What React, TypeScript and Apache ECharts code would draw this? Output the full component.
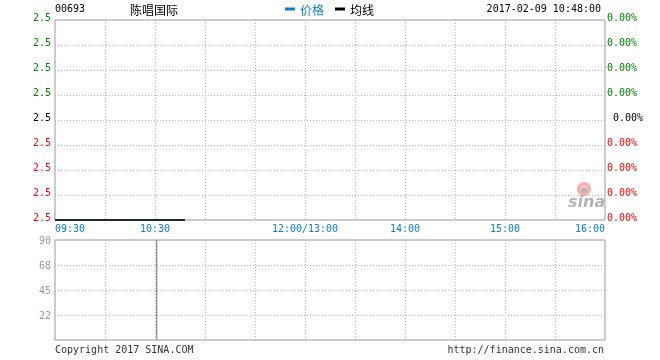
import React, { useEffect, useRef } from "react";
import * as echarts from "echarts";

// ---- data ----
const stockCode = "00693";
const stockName = "陈唱国际";
const timestamp = "2017-02-09 10:48:00";
const priceTimes = ["09:30", "10:48"];
const prices = [2.5, 2.5];
const avgPrices = [2.5, 2.5];
const volumeTimes = ["10:31"];
const volumes = [90];
const timeTickLabels = ["09:30", "", "10:30", "", "", "12:00/13:00", "", "14:00", "", "15:00", "", "16:00"];
const priceTickLabels = ["2.5", "2.5", "2.5", "2.5", "2.5", "2.5", "2.5", "2.5", "2.5"];
const pctTickLabels = ["0.00%", "0.00%", "0.00%", "0.00%", "0.00%", "0.00%", "0.00%", "0.00%", "0.00%"];
const volumeTickLabels = ["", "22", "45", "68", "90"];

// trading minutes since 09:30 (lunch break 12:00-13:00 removed)
const toMin = (t: string) => {
  const [h, m] = t.split(":").map(Number);
  const total = h * 60 + m;
  return total <= 720 ? total - 570 : total - 780 + 150;
};

const MONO = "'DejaVu Sans Mono', 'Liberation Mono', monospace";
const BLUE = "#0a7dd0";
const GRID_LINE = { show: true, lineStyle: { color: "#b4b4b4", type: [1, 2] as any, width: 1 }, showMinLine: false, showMaxLine: false };

export default function App() {
  const ref = useRef<HTMLDivElement>(null);
  useEffect(() => {
    if (!ref.current) return;
    const chart = echarts.init(ref.current, null, { renderer: "svg" });
    const colorOf = (i: number) => (i < 4 ? "r" : i === 4 ? "k" : "g");
    const rich = {
      r: { color: "#ff0000", fontFamily: MONO, fontSize: 10 },
      k: { color: "#000", fontFamily: MONO, fontSize: 10 },
      g: { color: "#008000", fontFamily: MONO, fontSize: 10 },
      km: { color: "#000", fontFamily: MONO, fontSize: 10, padding: [0, 0, 0, 6] },
    };
    chart.setOption({
      animation: false,
      grid: [
        { left: 55, top: 20, width: 550, height: 200, show: true, borderColor: "#999", borderWidth: 1, backgroundColor: "transparent" },
        { left: 55, top: 240, width: 550, height: 100, show: true, borderColor: "#999", borderWidth: 1, backgroundColor: "transparent" },
      ],
      legend: {
        left: 285,
        top: 3,
        padding: 0,
        itemWidth: 10,
        itemHeight: 3,
        itemGap: 11,
        icon: "rect",
        textStyle: { fontSize: 12, fontFamily: "'Noto Sans CJK SC'" },
        data: [
          { name: "价格", textStyle: { color: BLUE } },
          { name: "均线", textStyle: { color: "#000" } },
        ],
      },
      xAxis: [
        {
          gridIndex: 0,
          type: "value",
          min: 0,
          max: 330,
          interval: 30,
          axisLine: { show: false },
          axisTick: { show: false },
          splitLine: GRID_LINE,
          axisLabel: {
            margin: 3,
            color: BLUE,
            fontFamily: MONO,
            fontSize: 10,
            alignMinLabel: "left",
            alignMaxLabel: "right",
            formatter: (_v: number, i: number) => timeTickLabels[i] ?? "",
          },
        },
        {
          gridIndex: 1,
          type: "value",
          min: 0,
          max: 330,
          interval: 30,
          axisLine: { show: false },
          axisTick: { show: false },
          splitLine: GRID_LINE,
          axisLabel: { show: false },
        },
      ],
      yAxis: [
        {
          gridIndex: 0,
          type: "value",
          min: 2.5,
          max: 2.508,
          interval: 0.001,
          axisLine: { show: false },
          axisTick: { show: false },
          splitLine: GRID_LINE,
          axisLabel: {
            margin: 4,
            padding: [0, 0, 6, 0],
            formatter: (_v: number, i: number) => `{${colorOf(i)}|${priceTickLabels[i]}}`,
            rich,
          },
        },
        {
          gridIndex: 0,
          type: "value",
          position: "right",
          min: 2.5,
          max: 2.508,
          interval: 0.001,
          axisLine: { show: false },
          axisTick: { show: false },
          splitLine: { show: false },
          axisLabel: {
            margin: 2,
            padding: [0, 0, 6, 0],
            formatter: (_v: number, i: number) => `{${i === 4 ? "km" : colorOf(i)}|${pctTickLabels[i]}}`,
            rich,
          },
        },
        {
          gridIndex: 1,
          type: "value",
          min: 0,
          max: 90,
          interval: 22.5,
          axisLine: { show: false },
          axisTick: { show: false },
          splitLine: GRID_LINE,
          axisLabel: {
            margin: 4,
            padding: [0, 0, 5, 0],
            color: "#999",
            fontFamily: MONO,
            fontSize: 10,
            formatter: (_v: number, i: number) => volumeTickLabels[i] ?? "",
          },
        },
      ],
      graphic: [
        { type: "text", left: 55, top: 3, style: { text: stockCode, font: `10px ${MONO}`, fill: "#000" } },
        { type: "text", left: 130, top: 3, style: { text: stockName, font: "12px 'Noto Sans CJK SC'", fill: "#000" } },
        { type: "text", right: 59, top: 3, style: { text: timestamp, font: `10px ${MONO}`, fill: "#000" } },
        { type: "text", left: 55, top: 344, style: { text: "Copyright 2017 SINA.COM", font: `10px ${MONO}`, fill: "#333" } },
        { type: "text", right: 56, top: 344, style: { text: "http://finance.sina.com.cn", font: `10px ${MONO}`, fill: "#333" } },
        {
          type: "group",
          left: 568,
          top: 182,
          children: [
            { type: "ring", shape: { cx: 16, cy: 9, r: 7, r0: 3 }, style: { fill: "#f6b0b0" } },
            { type: "circle", shape: { cx: 16, cy: 10, r: 3 }, style: { fill: "#b5b5b5" } },
            { type: "text", x: 0, y: 13, style: { text: "sina", font: "italic bold 16px 'DejaVu Sans'", fill: "#b3b3b3" } },
          ],
        },
      ],
      series: [
        {
          name: "价格",
          type: "line",
          xAxisIndex: 0,
          yAxisIndex: 0,
          clip: false,
          symbol: "none",
          color: BLUE,
          lineStyle: { width: 1, color: BLUE },
          data: priceTimes.map((t, i) => [toMin(t), prices[i]]),
        },
        {
          name: "均线",
          type: "line",
          xAxisIndex: 0,
          yAxisIndex: 0,
          clip: false,
          symbol: "none",
          color: "#000",
          lineStyle: { width: 1.5, color: "#000" },
          data: priceTimes.map((t, i) => [toMin(t), avgPrices[i]]),
        },
        {
          name: "成交量",
          type: "bar",
          xAxisIndex: 1,
          yAxisIndex: 2,
          barWidth: 1.5,
          itemStyle: { color: "#999" },
          data: volumeTimes.map((t, i) => [toMin(t), volumes[i]]),
        },
      ],
    });
    return () => chart.dispose();
  }, []);
  return <div ref={ref} style={{ position: "fixed", left: 0, top: 0, width: 660, height: 360 }} />;
}
